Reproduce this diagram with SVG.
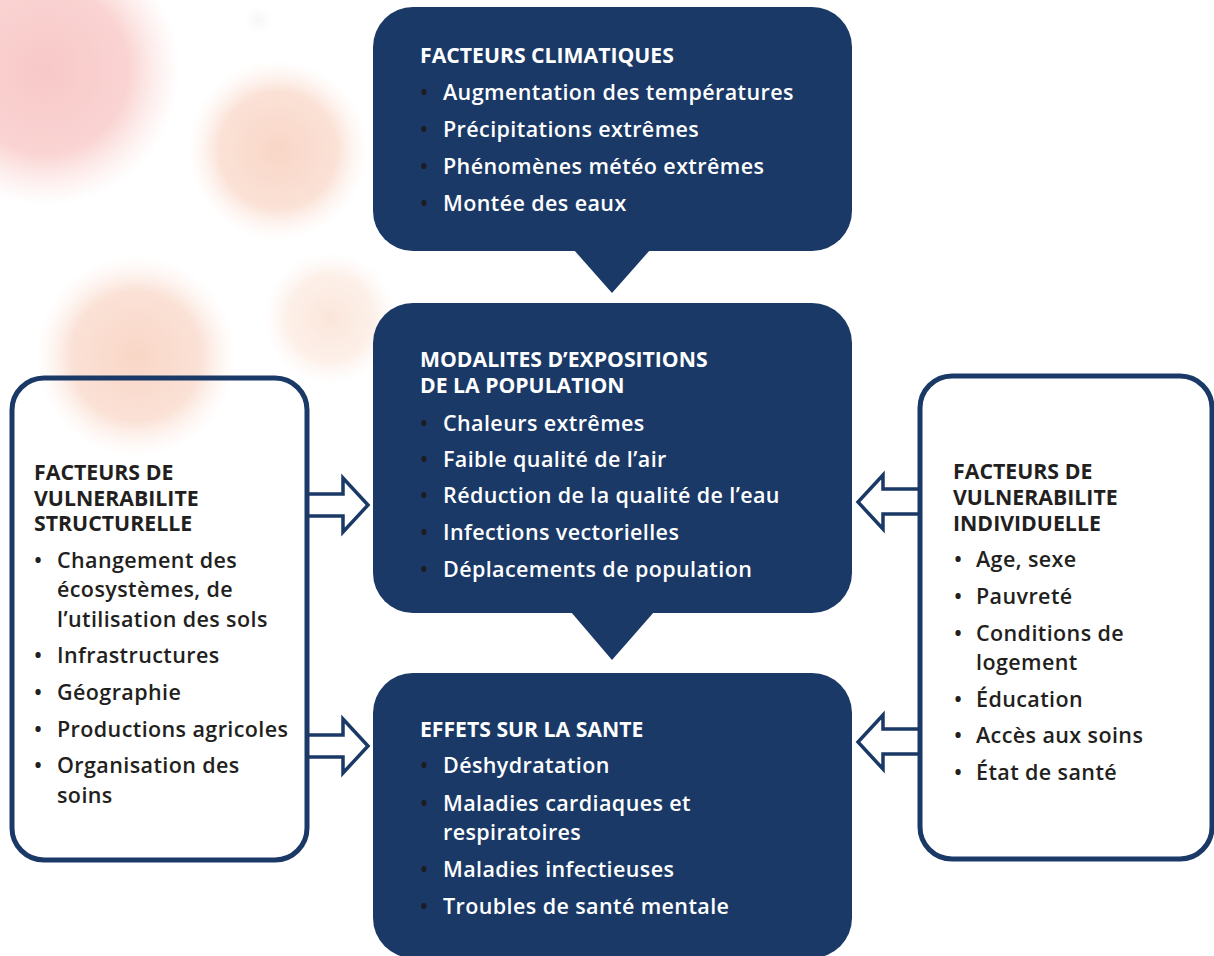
<svg xmlns="http://www.w3.org/2000/svg" width="1214" height="956" viewBox="0 0 1214 956">
<defs>
  <radialGradient id="gPink">
    <stop offset="0" stop-color="#f8c8c8" stop-opacity="1"/>
    <stop offset="0.62" stop-color="#f9cfcd" stop-opacity="0.9"/>
    <stop offset="1" stop-color="#fbe0dc" stop-opacity="0"/>
  </radialGradient>
  <radialGradient id="gPeach">
    <stop offset="0" stop-color="#f9d6c6" stop-opacity="1"/>
    <stop offset="0.65" stop-color="#fadccf" stop-opacity="0.85"/>
    <stop offset="1" stop-color="#fdeee6" stop-opacity="0"/>
  </radialGradient>
  <radialGradient id="gLight">
    <stop offset="0" stop-color="#fbe4d8" stop-opacity="0.95"/>
    <stop offset="0.65" stop-color="#fcebe1" stop-opacity="0.75"/>
    <stop offset="1" stop-color="#fdf3ee" stop-opacity="0"/>
  </radialGradient>
  <radialGradient id="gGrey">
    <stop offset="0" stop-color="#f3f3f3" stop-opacity="0.7"/>
    <stop offset="1" stop-color="#f6f6f6" stop-opacity="0"/>
  </radialGradient>
  <style>
    .dark { fill: #1a3966; }
    .outline { fill: none; stroke: #1a3966; stroke-width: 5; }
    .arrow { fill: #ffffff; stroke: #1a3966; stroke-width: 3.5; stroke-linejoin: miter; }
    text { font-family: "Open Sans", "Noto Sans", "DejaVu Sans", sans-serif; }
    .hw { fill: #ffffff; font-size: 21.2px; font-weight: 700; }
    .iw { fill: #ffffff; font-size: 21.5px; font-weight: 600; letter-spacing: 0.4px; }
    .bd { fill: #1c1c24; font-size: 21px; font-weight: 600; }
    .hk { fill: #231f20; font-size: 21.3px; font-weight: 700; }
    .ik { fill: #231f20; font-size: 21.5px; font-weight: 600; letter-spacing: 0.4px; }
  </style>
</defs>
<rect width="1214" height="956" fill="#ffffff"/>
<g id="background">
  <circle cx="45" cy="70" r="135" fill="url(#gPink)"/>
  <circle cx="278" cy="150" r="90" fill="url(#gPeach)"/>
  <circle cx="136" cy="356" r="100" fill="url(#gPeach)"/>
  <circle cx="330" cy="318" r="66" fill="url(#gLight)"/>
  <circle cx="258" cy="20" r="14" fill="url(#gGrey)"/>
</g>
<g id="connectors">
  <polyline class="arrow" points="308,494 343,494 343,478 368,505 343,532 343,516 308,516"/>
  <polyline class="arrow" points="308,735 343,735 343,719 368,746 343,773 343,757 308,757"/>
  <polyline class="arrow" points="920,489 883,489 883,475 858,502 883,529 883,514 920,514"/>
  <polyline class="arrow" points="920,729 883,729 883,715 858,742 883,769 883,754 920,754"/>
</g>
<g id="facteurs-climatiques">
  <rect class="dark" x="373" y="7" width="479" height="244" rx="40"/>
  <polygon class="dark" points="574,250 650,250 612,293"/>
  <text class="hw" x="420" y="63">FACTEURS CLIMATIQUES</text>
  <text class="bd" x="420" y="100">•</text><text class="iw" x="443" y="100">Augmentation des températures</text>
  <text class="bd" x="420" y="137">•</text><text class="iw" x="443" y="137">Précipitations extrêmes</text>
  <text class="bd" x="420" y="174">•</text><text class="iw" x="443" y="174">Phénomènes météo extrêmes</text>
  <text class="bd" x="420" y="211">•</text><text class="iw" x="443" y="211">Montée des eaux</text>
</g>
<g id="modalites-expositions">
  <rect class="dark" x="373" y="303" width="479" height="310" rx="40"/>
  <polygon class="dark" points="571,612 654,612 612,660"/>
  <text class="hw" x="420" y="367">MODALITES D’EXPOSITIONS</text>
  <text class="hw" x="420" y="393">DE LA POPULATION</text>
  <text class="bd" x="420" y="431">•</text><text class="iw" x="443" y="431">Chaleurs extrêmes</text>
  <text class="bd" x="420" y="467">•</text><text class="iw" x="443" y="467">Faible qualité de l’air</text>
  <text class="bd" x="420" y="503">•</text><text class="iw" x="443" y="503">Réduction de la qualité de l’eau</text>
  <text class="bd" x="420" y="540">•</text><text class="iw" x="443" y="540">Infections vectorielles</text>
  <text class="bd" x="420" y="577">•</text><text class="iw" x="443" y="577">Déplacements de population</text>
</g>
<g id="effets-sante">
  <rect class="dark" x="373" y="673" width="479" height="285" rx="40"/>
  <text class="hw" x="420" y="737">EFFETS SUR LA SANTE</text>
  <text class="bd" x="420" y="773">•</text><text class="iw" x="443" y="773">Déshydratation</text>
  <text class="bd" x="420" y="811">•</text><text class="iw" x="443" y="811">Maladies cardiaques et</text>
  <text class="iw" x="443" y="840">respiratoires</text>
  <text class="bd" x="420" y="877">•</text><text class="iw" x="443" y="877">Maladies infectieuses</text>
  <text class="bd" x="420" y="914">•</text><text class="iw" x="443" y="914">Troubles de santé mentale</text>
</g>
<g id="vulnerabilite-structurelle">
  <rect class="outline" x="12" y="378" width="295" height="482" rx="32"/>
  <text class="hk" x="34" y="480">FACTEURS DE</text>
  <text class="hk" x="34" y="506">VULNERABILITE</text>
  <text class="hk" x="34" y="531">STRUCTURELLE</text>
  <text class="ik" x="34" y="568">•</text><text class="ik" x="57" y="568">Changement des</text>
  <text class="ik" x="57" y="597">écosystèmes, de</text>
  <text class="ik" x="57" y="627">l’utilisation des sols</text>
  <text class="ik" x="34" y="663">•</text><text class="ik" x="57" y="663">Infrastructures</text>
  <text class="ik" x="34" y="700">•</text><text class="ik" x="57" y="700">Géographie</text>
  <text class="ik" x="34" y="737">•</text><text class="ik" x="57" y="737">Productions agricoles</text>
  <text class="ik" x="34" y="773">•</text><text class="ik" x="57" y="773">Organisation des</text>
  <text class="ik" x="57" y="803">soins</text>
</g>
<g id="vulnerabilite-individuelle">
  <rect class="outline" x="920" y="376" width="292" height="483" rx="32"/>
  <text class="hk" x="953" y="479">FACTEURS DE</text>
  <text class="hk" x="953" y="505">VULNERABILITE</text>
  <text class="hk" x="953" y="531">INDIVIDUELLE</text>
  <text class="ik" x="954" y="567">•</text><text class="ik" x="976" y="567">Age, sexe</text>
  <text class="ik" x="954" y="604">•</text><text class="ik" x="976" y="604">Pauvreté</text>
  <text class="ik" x="954" y="641">•</text><text class="ik" x="976" y="641">Conditions de</text>
  <text class="ik" x="976" y="670">logement</text>
  <text class="ik" x="954" y="707">•</text><text class="ik" x="976" y="707">Éducation</text>
  <text class="ik" x="954" y="743">•</text><text class="ik" x="976" y="743">Accès aux soins</text>
  <text class="ik" x="954" y="780">•</text><text class="ik" x="976" y="780">État de santé</text>
</g>
</svg>
